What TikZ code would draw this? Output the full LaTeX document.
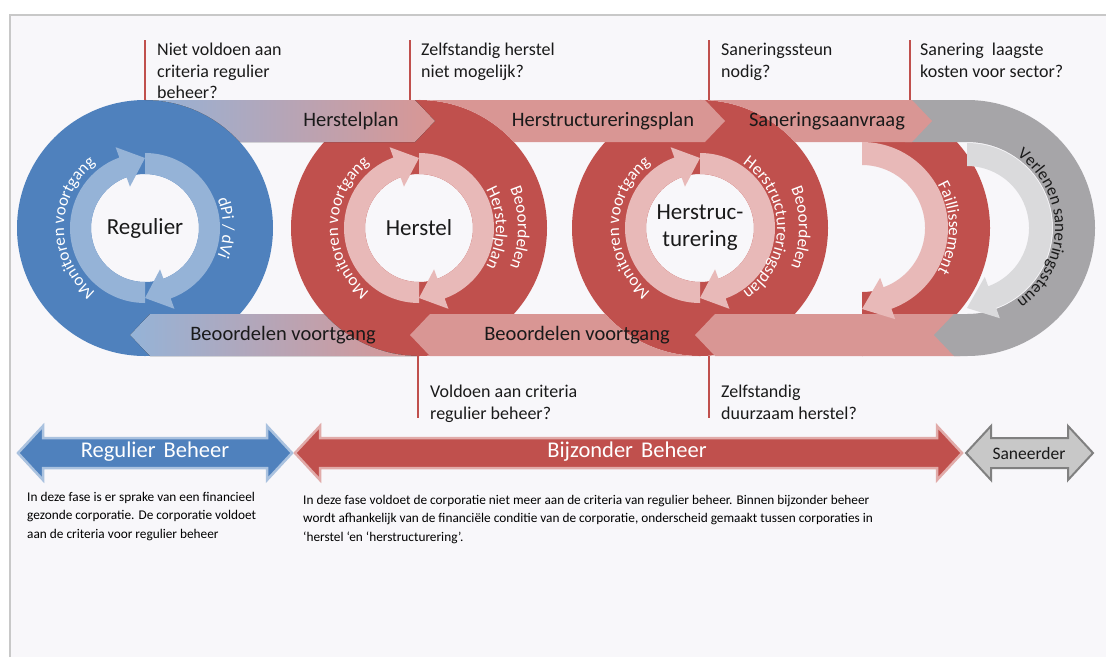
\documentclass[tikz,border=0pt]{standalone}
\usepackage{fontspec}
\setmainfont{Carlito}
\usepackage{tikz}
\usetikzlibrary{decorations.text, positioning}

\definecolor{regblue}{RGB}{79,129,189}
\definecolor{reglight}{RGB}{149,179,215}
\definecolor{bzred}{RGB}{192,80,77}
\definecolor{bzband}{RGB}{217,150,148}
\definecolor{bzlight}{RGB}{232,185,184}
\definecolor{sangray}{RGB}{166,165,168}
\definecolor{sanlight}{RGB}{218,218,220}
\definecolor{sanfill}{RGB}{200,200,200}
\definecolor{sanline}{RGB}{128,128,128}
\definecolor{framebg}{RGB}{248,247,250}
\definecolor{frameline}{RGB}{200,200,200}
\definecolor{txt}{RGB}{26,26,26}

\newcommand{\ringfont}{\fontsize{17}{17}\selectfont\color{white}}
\newcommand{\sanfont}{\fontsize{17}{17}\selectfont\color{txt}}

% circular arrow: centre, from angle, tip angle, inner r, outer r, colour
\newcommand{\ringarrow}[6]{%
  \fill[#6, shift={(#1)}] (#2:#5) arc[start angle=#2, end angle={#3+20}, radius=#5]
    -- ({#3+20}:{#5+11}) -- (#3:{#5-5}) -- ({#3+20}:{#4-10}) -- ({#3+20}:#4)
    arc[start angle={#3+20}, end angle=#2, radius=#4] -- cycle;}

% text on a ring: centre, from, to, radius, font, text
\newcommand{\ringtext}[6]{%
  \path[shift={(#1)}, decorate, decoration={text along path, text align=center,
    text={|#5|#6}}] (#2:#4) arc[start angle=#2, end angle=#3, radius=#4];}

% double arrow for the phases: left tip, right tip, style
\newcommand{\phasearrow}[3]{%
  \draw[#3] (#1,-453) -- ({#1+25},-426) -- ({#1+25},-438) -- ({#2-25},-438)
    -- ({#2-25},-426) -- (#2,-453) -- ({#2-25},-480) -- ({#2-25},-468)
    -- ({#1+25},-468) -- ({#1+25},-480) -- cycle;}

\begin{document}
\begin{tikzpicture}[x=1pt, y=1pt,
    qline/.style={bzred, line width=2pt},
    qtext/.style={font=\fontsize{18}{21.5}\selectfont, text=txt, align=left, inner sep=0pt},
    bandtext/.style={font=\fontsize{20.5}{24}\selectfont, text=txt, inner sep=0pt},
    ctrtext/.style={font=\fontsize{23}{27}\selectfont, text=txt, align=center, inner sep=0pt},
    phase/.style={line width=2.5pt, line join=miter},
    phasetext/.style={font=\fontsize{22.5}{26}\selectfont, text=white, inner sep=0pt},
    desc/.style={font=\fontsize{13.3}{18.5}\selectfont, text=black, align=left, inner sep=0pt, anchor=north west}
]
\useasboundingbox (0,0) rectangle (1106,-657);
\fill[white] (0,0) rectangle (1106,-657);
\fill[framebg] (10,-15) rectangle (1106,-657);
\draw[frameline, line width=2pt] (10,-657) -- (10,-15) -- (1106,-15);

\coordinate (c1) at (145,-228);
\coordinate (c2) at (419,-228);
\coordinate (c3) at (700,-228);
\coordinate (c4) at (862,-228);
\coordinate (c5) at (967,-228);

% circles
\fill[regblue, even odd rule] (c1) circle[radius=128] (c1) circle[radius=54];
\fill[bzred, even odd rule] (c2) circle[radius=128] (c2) circle[radius=54];
\fill[bzred, even odd rule] (c3) circle[radius=128] (c3) circle[radius=54];
\fill[bzred, shift={(c4)}] (90:128) arc[start angle=90, end angle=-90, radius=128]
  -- (-90:64) arc[start angle=-90, end angle=90, radius=64] -- cycle;

% saneerder
\fill[bzband] (695,-335) -- (715,-314) -- (960,-314) -- (960,-356) -- (715,-356) -- cycle;
\fill[sangray] (905,-100) -- (967,-100) arc[start angle=90, end angle=-90, radius=128]
  -- (954,-356) -- (934,-335) -- (954,-314) -- (967,-314)
  arc[start angle=-90, end angle=90, radius=86] -- (905,-142) -- cycle;

% bands
\fill[left color=reglight, right color=bzband] (145,-100) -- (415,-100) -- (435,-121) -- (415,-142)
  -- (239.8,-142) arc[start angle=42.2, end angle=90, radius=128] -- cycle;
\fill[bzband] (419,-100) -- (705,-100) -- (725,-121) -- (705,-142)
  -- (513.8,-142) arc[start angle=42.2, end angle=90, radius=128] -- cycle;
\fill[bzband] (700,-100) -- (912,-100) -- (932,-121) -- (912,-142)
  -- (794.8,-142) arc[start angle=42.2, end angle=90, radius=128] -- cycle;
\fill[left color=reglight, right color=bzband] (130,-335) -- (150,-314)
  -- (324.2,-314) arc[start angle=222.2, end angle=270, radius=128] -- (150,-356) -- cycle;
\fill[bzband] (410,-335) -- (430,-314)
  -- (605.2,-314) arc[start angle=222.2, end angle=270, radius=128] -- (430,-356) -- cycle;

% inner arrows
\ringarrow{c1}{270}{90}{54}{75}{reglight}
\ringarrow{c1}{90}{-90}{54}{75}{reglight}
\ringarrow{c2}{270}{90}{54}{75}{bzlight}
\ringarrow{c2}{90}{-90}{54}{75}{bzlight}
\ringarrow{c3}{270}{90}{54}{75}{bzlight}
\ringarrow{c3}{90}{-90}{54}{75}{bzlight}
\ringarrow{c4}{90}{-90}{63}{86}{bzlight}
\ringarrow{c5}{90}{-90}{62}{85}{sanlight}

% ring texts
\ringtext{c1}{250}{110}{81}{\ringfont}{Monitoren voortgang}
\ringtext{c1}{60}{-60}{78}{\ringfont}{dPi / dVi}
\ringtext{c2}{250}{110}{81}{\ringfont}{Monitoren voortgang}
\ringtext{c2}{70}{-70}{99}{\ringfont}{Beoordelen}
\ringtext{c2}{70}{-70}{77}{\ringfont}{Herstelplan}
\ringtext{c3}{250}{110}{81}{\ringfont}{Monitoren voortgang}
\ringtext{c3}{70}{-70}{99}{\ringfont}{Beoordelen}
\ringtext{c3}{85}{-85}{77}{\ringfont}{Herstructureringsplan}
\ringtext{c4}{60}{-60}{87}{\ringfont}{Faillissement}
\ringtext{c5}{75}{-75}{88}{\sanfont}{Verlenen saneringssteun}

% labels
\node[ctrtext] (reg) at (c1) {Regulier};
\node[ctrtext] (her) at (c2) {Herstel};
\node[ctrtext] (hstr) at (c3) {Herstruc-\\turering};
\node[bandtext] (hplan) at (351,-121) {Herstelplan};
\node[bandtext] (hsplan) at (603,-121) {Herstructureringsplan};
\node[bandtext] (sanv) at (827,-121) {Saneringsaanvraag};
\node[bandtext] (bv1) at (283,-335) {Beoordelen voortgang};
\node[bandtext] (bv2) at (577,-335) {Beoordelen voortgang};

% questions
\coordinate (q1a) at (145,-40);  \coordinate (q1b) at (145,-100);
\coordinate (q2a) at (410,-40);  \coordinate (q2b) at (410,-100);
\coordinate (q3a) at (709,-40);  \coordinate (q3b) at (709,-100);
\coordinate (q4a) at (910,-40);  \coordinate (q4b) at (910,-100);
\coordinate (q5a) at (418,-356); \coordinate (q5b) at (418,-418);
\coordinate (q6a) at (709,-356); \coordinate (q6b) at (709,-418);
\draw[qline] (q1a) -- (q1b);
\draw[qline] (q2a) -- (q2b);
\draw[qline] (q3a) -- (q3b);
\draw[qline] (q4a) -- (q4b);
\draw[qline] (q5a) -- (q5b);
\draw[qline] (q6a) -- (q6b);
\node[qtext, below right=3pt and 12pt of q1a] (q1) {Niet voldoen aan\\criteria regulier\\beheer?};
\node[qtext, below right=3pt and 11pt of q2a] (q2) {Zelfstandig herstel\\niet mogelijk?};
\node[qtext, below right=3pt and 12pt of q3a] (q3) {Saneringssteun\\nodig?};
\node[qtext, below right=3pt and 10pt of q4a] (q4) {Sanering~ laagste\\kosten voor sector?};
\node[qtext, below right=29pt and 12pt of q5a] (q5) {Voldoen aan criteria\\regulier beheer?};
\node[qtext, below right=29pt and 12pt of q6a] (q6) {Zelfstandig\\duurzaam herstel?};

% phases
\phasearrow{18}{292}{phase, fill=regblue, draw=reglight!80}
\phasearrow{295}{962}{phase, fill=bzred, draw=bzband!80}
\phasearrow{966}{1093}{line width=2pt, fill=sanfill, draw=sanline}
\node[phasetext] (regb) at (155,-452) {Regulier\hspace{3pt} Beheer};
\node[phasetext] (bzb) at (627,-452) {Bijzonder\hspace{3pt} Beheer};
\node[font=\fontsize{17.5}{20}\selectfont, text=txt, inner sep=0pt] (sanb) at (1029,-453) {Saneerder};
\node[desc] (dreg) at (27,-492) {In deze fase is er sprake van een financieel\\gezonde corporatie. De corporatie voldoet\\aan de criteria voor regulier beheer};
\node[desc] (dbz) at (303,-495) {In deze fase voldoet de corporatie niet meer aan de criteria van regulier beheer. Binnen bijzonder beheer\\wordt afhankelijk van de financiële conditie van de corporatie, onderscheid gemaakt tussen corporaties in\\‘herstel ‘en ‘herstructurering’.};
\end{tikzpicture}
\end{document}
